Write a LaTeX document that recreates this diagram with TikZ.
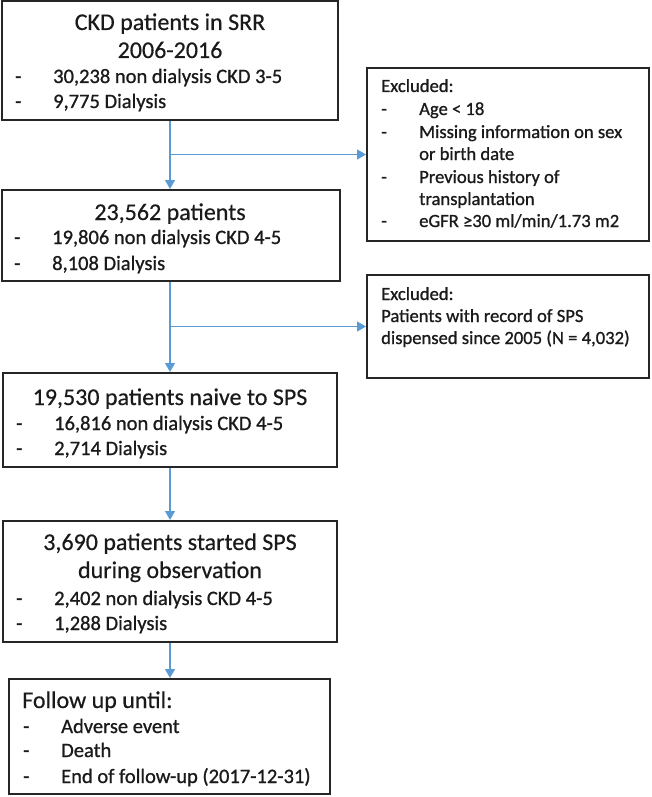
\documentclass[tikz,border=0pt]{standalone}
\usepackage{fontspec}
\setmainfont{Carlito}
\usetikzlibrary{arrows.meta}
\definecolor{flowblue}{HTML}{5B9BD5}
\definecolor{boxline}{HTML}{262626}
\definecolor{inkc}{HTML}{1A1A1A}
\tikzset{
  box/.style={draw=boxline, line width=2pt, inner sep=0pt, fill=white},
  ttl/.style={anchor=base, inner sep=0pt, text=inkc, font=\fontsize{24}{28}\selectfont\addfontfeature{FakeBold=0.4}},
  ttlw/.style={anchor=base west, inner sep=0pt, text=inkc, font=\fontsize{24}{28}\selectfont\addfontfeature{FakeBold=0.4}},
  itm/.style={anchor=base west, inner sep=0pt, text=inkc, font=\fontsize{20.5}{25}\selectfont\addfontfeature{FakeBold=0.9}},
  sitm/.style={anchor=base west, inner sep=0pt, text=inkc, font=\fontsize{18.6}{22}\selectfont\addfontfeature{FakeBold=0.9}},
  flow/.style={draw=flowblue, line width=1.3pt, -{Triangle[width=10pt,length=9pt]}}
}
\begin{document}
\begin{tikzpicture}[x=1pt,y=-1pt]
\useasboundingbox (0,0) rectangle (652,797);
% main boxes
\node[box, minimum width=336pt, minimum height=119pt] (b1) at (170,61) {};
\node[box, minimum width=338pt, minimum height=91pt] (b2) at (171,235.5) {};
\node[box, minimum width=334pt, minimum height=94pt] (b3) at (170,420) {};
\node[box, minimum width=334pt, minimum height=121pt] (b4) at (170,581.5) {};
\node[box, minimum width=321pt, minimum height=115pt] (b5) at (169.5,736.5) {};
% excluded boxes
\node[box, minimum width=282pt, minimum height=173pt] (e1) at (508,154.5) {};
\node[box, minimum width=282pt, minimum height=103pt] (e2) at (508,326.5) {};
% box 1 text
\node[ttl] (b1a) at (170,30) {CKD patients in SRR};
\node[ttl] (b1b) at (170,58) {2006-2016};
\node[itm] (b1c) at (15,83) {-};
\node[itm] (b1d) at (53,83) {30,238 non dialysis CKD 3-5};
\node[itm] (b1e) at (15,108) {-};
\node[itm] (b1f) at (53,108) {9,775 Dialysis};
% box 2 text
\node[ttl] (b2a) at (170,220) {23,562 patients};
\node[itm] (b2b) at (14,244) {-};
\node[itm] (b2c) at (52,244) {19,806 non dialysis CKD 4-5};
\node[itm] (b2d) at (14,270) {-};
\node[itm] (b2e) at (52,270) {8,108 Dialysis};
% box 3 text
\node[ttl] (b3a) at (170,405) {19,530 patients naive to SPS};
\node[itm] (b3b) at (16,430) {-};
\node[itm] (b3c) at (54,430) {16,816 non dialysis CKD 4-5};
\node[itm] (b3d) at (16,455) {-};
\node[itm] (b3e) at (54,455) {2,714 Dialysis};
% box 4 text
\node[ttl] (b4a) at (170,550) {3,690 patients started SPS};
\node[ttl] (b4b) at (170,578) {during observation};
\node[itm] (b4c) at (16,605) {-};
\node[itm] (b4d) at (54,605) {2,402 non dialysis CKD 4-5};
\node[itm] (b4e) at (16,630) {-};
\node[itm] (b4f) at (54,630) {1,288 Dialysis};
% box 5 text
\node[ttlw] (b5a) at (22,708) {Follow up until:};
\node[itm] (b5b) at (23,733) {-};
\node[itm] (b5c) at (61,733) {Adverse event};
\node[itm] (b5d) at (23,757) {-};
\node[itm] (b5e) at (61,757) {Death};
\node[itm] (b5f) at (23,783) {-};
\node[itm] (b5g) at (61,783) {End of follow-up (2017-12-31)};
% excluded 1 text
\node[sitm] (e1a) at (381,92) {Excluded:};
\node[sitm] (e1b) at (381,115) {-};
\node[sitm] (e1c) at (419,115) {Age < 18};
\node[sitm] (e1d) at (381,138) {-};
\node[sitm] (e1e) at (419,138) {Missing information on sex};
\node[sitm] (e1f) at (419,160) {or birth date};
\node[sitm] (e1g) at (381,183) {-};
\node[sitm] (e1h) at (419,183) {Previous history of};
\node[sitm] (e1i) at (419,205) {transplantation};
\node[sitm] (e1j) at (381,227) {-};
\node[sitm] (e1k) at (419,227) {eGFR ≥30 ml/min/1.73 m2};
% excluded 2 text
\node[sitm] (e2a) at (381,300) {Excluded:};
\node[sitm] (e2b) at (381,322) {Patients with record of SPS};
\node[sitm] (e2c) at (381,344) {dispensed since 2005 (N = 4,032)};
% connectors
\coordinate (j1) at (170,154.5);
\coordinate (j2) at (170,326.5);
\draw[flow] (b1.south -| j1) -- (b2.north -| j1);
\draw[flow] (j1) -- (e1.west);
\draw[flow] (b2.south -| j2) -- (b3.north -| j2);
\draw[flow] (j2) -- (e2.west);
\draw[flow] (b3.south) -- (b4.north);
\draw[flow] (b4.south) -- (b4.south |- b5.north);
\end{tikzpicture}
\end{document}
